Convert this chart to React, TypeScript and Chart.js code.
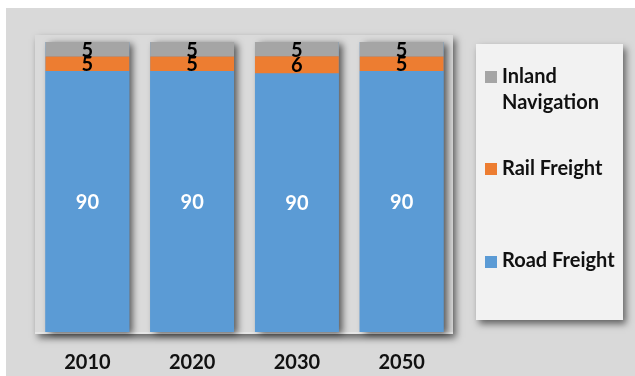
import React, { useEffect, useRef } from "react";
import { Chart, registerables } from "chart.js";
Chart.register(...registerables);

const categories = ["2010", "2020", "2030", "2050"];
const roadFreight = [90, 90, 90, 90];
const railFreight = [5, 5, 6, 5];
const inlandNavigation = [5, 5, 5, 5];
const seriesNames = ["Road Freight", "Rail Freight", "Inland Navigation"];
const seriesColors = ["#5b9bd5", "#ed7d31", "#a5a5a5"];
const legendLines = [["Inland", "Navigation"], ["Rail Freight"], ["Road Freight"]];
const legendColors = ["#a5a5a5", "#ed7d31", "#5b9bd5"];

const W = 629;
const H = 368;
const FONT = "Lato, 'Open Sans', sans-serif";

export default function App() {
  const ref = useRef<HTMLCanvasElement | null>(null);

  useEffect(() => {
    const canvas = ref.current;
    if (!canvas) return;
    const raw = [roadFreight, railFreight, inlandNavigation];
    const totals = categories.map((_, i) => raw.reduce((s, a) => s + a[i], 0));
    const pct = raw.map((a) => a.map((v, i) => (v / totals[i]) * 100));

    const decor = {
      id: "decor",
      beforeDraw(chart: any) {
        const ctx = chart.ctx;
        ctx.save();
        ctx.fillStyle = "#d9d9d9";
        ctx.fillRect(0, 0, W, H);
        // plot panel
        ctx.shadowColor = "rgba(0,0,0,0.55)";
        ctx.shadowBlur = 7;
        ctx.shadowOffsetX = 3;
        ctx.shadowOffsetY = 4;
        ctx.fillStyle = "#dadada";
        ctx.fillRect(29, 27, 418, 299);
        // legend panel
        ctx.fillStyle = "#f2f2f2";
        ctx.fillRect(470, 36, 147, 276);
        ctx.restore();
        ctx.save();
        ctx.fillStyle = "#e6e6e6";
        ctx.fillRect(29, 324, 418, 2);
        ctx.restore();
      },
      beforeDatasetsDraw(chart: any) {
        const ctx = chart.ctx;
        const top = chart.getDatasetMeta(2).data;
        const bottom = chart.getDatasetMeta(0).data;
        ctx.save();
        ctx.shadowColor = "rgba(0,0,0,0.6)";
        ctx.shadowBlur = 7;
        ctx.shadowOffsetX = 4;
        ctx.shadowOffsetY = 2;
        ctx.fillStyle = "#5b9bd5";
        top.forEach((el: any, i: number) => {
          const b = bottom[i];
          const x0 = el.x - el.width / 2;
          ctx.fillRect(x0, el.y, el.width, b.base - el.y);
        });
        ctx.restore();
      },
      afterDatasetsDraw(chart: any) {
        const ctx = chart.ctx;
        ctx.save();
        ctx.textAlign = "center";
        ctx.textBaseline = "middle";
        ctx.font = `bold 20px ${FONT}`;
        raw.forEach((vals, d) => {
          const meta = chart.getDatasetMeta(d);
          meta.data.forEach((el: any, i: number) => {
            ctx.fillStyle = d === 0 ? "#ffffff" : "#000000";
            ctx.fillText(String(vals[i]), el.x, (el.y + el.base) / 2 + 1);
          });
        });
        // category labels from the x scale
        const xs = chart.scales.x;
        ctx.fillStyle = "#111111";
        ctx.font = `bold 20px ${FONT}`;
        categories.forEach((_, i) => {
          ctx.fillText(xs.getLabelForValue(i), xs.getPixelForValue(i), chart.chartArea.bottom + 31);
        });
        ctx.restore();
      },
      afterDraw(chart: any) {
        const ctx = chart.ctx;
        ctx.save();
        ctx.font = `bold 20px ${FONT}`;
        ctx.textBaseline = "middle";
        ctx.textAlign = "left";
        const squareY = [63, 155, 248];
        const textY = [[69, 95], [161], [253]];
        legendLines.forEach((lines, k) => {
          ctx.fillStyle = legendColors[k];
          ctx.fillRect(479, squareY[k], 12, 12);
          ctx.fillStyle = "#111111";
          lines.forEach((t, j) => ctx.fillText(t, 496, textY[k][j]));
        });
        ctx.restore();
      },
    };

    const chart = new Chart(canvas, {
      type: "bar",
      data: {
        labels: categories,
        datasets: pct.map((arr, d) => ({
          label: seriesNames[d],
          data: arr,
          backgroundColor: seriesColors[d],
          borderWidth: 0,
          categoryPercentage: 1,
          barPercentage: 0.8,
        })),
      },
      options: {
        responsive: false,
        animation: false,
        events: [],
        layout: { padding: { left: 29, right: 181, top: 34, bottom: 44 } },
        plugins: { legend: { display: false }, tooltip: { enabled: false } },
        scales: {
          x: {
            stacked: true,
            grid: { display: false, drawTicks: false },
            border: { display: false },
            ticks: { display: false },
          },
          y: { stacked: true, display: false, min: 0, max: 100 },
        },
      },
      plugins: [decor],
    });
    return () => chart.destroy();
  }, []);

  return (
    <div style={{ position: "fixed", left: 6, top: 8, width: W, height: H }}>
      <canvas ref={ref} width={W} height={H} style={{ display: "block" }} />
    </div>
  );
}
